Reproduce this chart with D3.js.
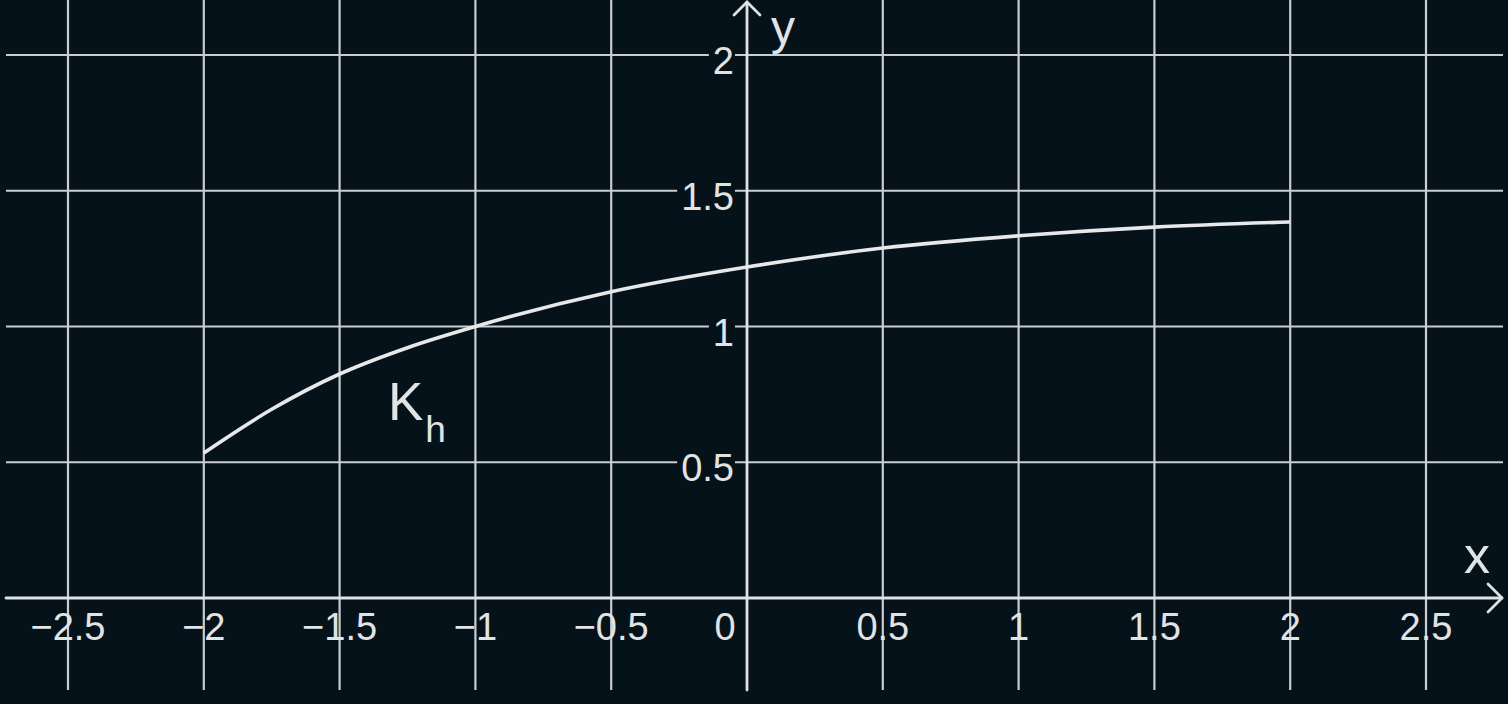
<!DOCTYPE html>
<html>
<head>
<meta charset="utf-8">
<script src="https://cdn.jsdelivr.net/npm/d3@7"></script>
<style>
  html, body { margin: 0; padding: 0; background: #06121a; overflow: hidden; }
  svg { display: block; }
  text { font-family: "Liberation Sans", Arial, sans-serif; }
</style>
</head>
<body>
<svg id="chart" width="1508" height="704"></svg>
<script>
// ---- data ----
const curveX = [-2, -1.75, -1.5, -1.25, -1, -0.5, 0, 0.5, 1, 1.5, 2];
const curveY = [0.534, 0.695, 0.825, 0.922, 1.0, 1.128, 1.219, 1.289, 1.334, 1.366, 1.385];
const xTicks = [-2.5, -2, -1.5, -1, -0.5, 0.5, 1, 1.5, 2, 2.5];
const yTicks = [0.5, 1, 1.5, 2];
const xAxisLabel = "x";
const yAxisLabel = "y";
const curveLabel = "K";
const curveSub = "h";

// ---- layout ----
const W = 1508, H = 704;
const bg = "#06121a";
const gridColor = "#c9cdcf";
const textColor = "#e1e4e5";

const x = d3.scaleLinear().domain([-2.5, 2.5]).range([68, 1426]);
const y = d3.scaleLinear().domain([0, 2]).range([598, 55]);
const fmt = d3.format("~g");

const svg = d3.select("#chart");
svg.append("rect").attr("width", W).attr("height", H).attr("fill", bg);

// vertical grid
svg.append("g").selectAll("line").data(xTicks).join("line")
  .attr("x1", d => x(d)).attr("x2", d => x(d))
  .attr("y1", 0).attr("y2", 690)
  .attr("stroke", gridColor).attr("stroke-width", 2.2);

// horizontal grid
svg.append("g").selectAll("line").data(yTicks).join("line")
  .attr("x1", 6).attr("x2", 1503)
  .attr("y1", d => y(d)).attr("y2", d => y(d))
  .attr("stroke", gridColor).attr("stroke-width", 2.2);

// y tick labels with gap in gridline
const yl = svg.append("g");
yTicks.forEach(v => {
  const t = yl.append("text")
    .attr("x", x(0) - 13).attr("y", y(v) + 19)
    .attr("text-anchor", "end")
    .attr("font-size", 38)
    .attr("fill", textColor)
    .text(fmt(v));
  const bb = t.node().getBBox();
  yl.insert("rect", "text")
    .attr("x", bb.x - 4).attr("width", bb.width + 5)
    .attr("y", y(v) - 5).attr("height", 10)
    .attr("fill", bg);
});

// axes
const ax = svg.append("g").attr("stroke", "#dfe2e3").attr("stroke-width", 2.8).attr("fill", "none")
  .attr("stroke-linecap", "round").attr("stroke-linejoin", "round");
ax.append("line").attr("x1", 6).attr("x2", 1502).attr("y1", y(0)).attr("y2", y(0));
ax.append("path").attr("d", `M${1488},${y(0) - 14} L1502,${y(0)} L${1488},${y(0) + 14}`);
ax.append("line").attr("x1", x(0)).attr("x2", x(0)).attr("y1", 690).attr("y2", 2);
ax.append("path").attr("d", `M${x(0) - 13},15 L${x(0)},2 L${x(0) + 13},15`);

// x tick labels
svg.append("g").selectAll("text").data(xTicks).join("text")
  .attr("x", d => x(d)).attr("y", 640)
  .attr("text-anchor", "middle")
  .attr("font-size", 38)
  .attr("fill", textColor)
  .text(d => fmt(d));
svg.append("text").attr("x", x(0) - 22).attr("y", 640)
  .attr("text-anchor", "middle").attr("font-size", 38).attr("fill", textColor).text("0");

// axis names
svg.append("text").attr("x", 1477).attr("y", 573).attr("text-anchor", "middle")
  .attr("font-size", 52).attr("fill", textColor).text(xAxisLabel);
svg.append("text").attr("x", 771).attr("y", 44).attr("text-anchor", "start")
  .attr("font-size", 48).attr("fill", textColor).text(yAxisLabel);

// curve
const pts = curveX.map((v, i) => [v, curveY[i]]);
svg.append("path").datum(pts)
  .attr("d", d3.line().x(d => x(d[0])).y(d => y(d[1])).curve(d3.curveMonotoneX))
  .attr("fill", "none").attr("stroke", "#e6e8e9").attr("stroke-width", 3.6)
  .attr("stroke-linecap", "butt");

// curve label
const kl = svg.append("text").attr("x", 388).attr("y", 420).attr("fill", textColor);
kl.append("tspan").attr("font-size", 53).text(curveLabel);
kl.append("tspan").attr("font-size", 37).attr("dx", 2).attr("dy", 22).text(curveSub);
</script>
</body>
</html>
